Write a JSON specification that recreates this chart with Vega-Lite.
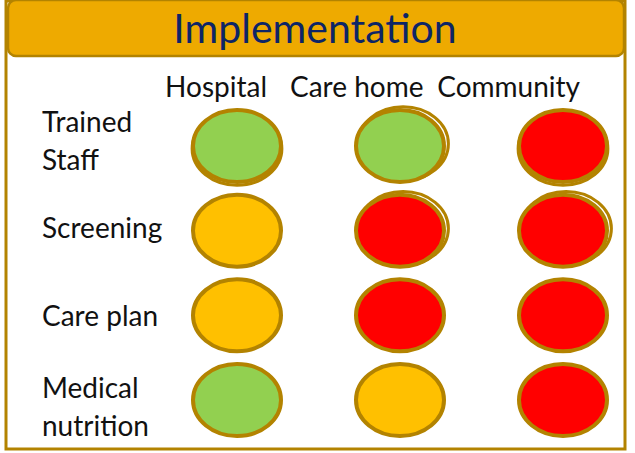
{
  "$schema": "https://vega.github.io/schema/vega-lite/v6.json",
  "width": 619,
  "height": 448,
  "autosize": {"type": "none"},
  "padding": {"left": 6, "top": 1, "right": 4, "bottom": 4},
  "background": "white",
  "config": {
    "view": {"stroke": "#B38300", "strokeWidth": 3},
    "text": {"font": "Lato"}
  },
  "datasets": {
    "title": [{"text": "Implementation"}],
    "cols": [{"col": "Hospital"}, {"col": "Care home"}, {"col": "Community"}],
    "rowlines": [
      {"row": "Trained Staff", "line": "first", "text": "Trained"},
      {"row": "Trained Staff", "line": "second", "text": "Staff"},
      {"row": "Screening", "line": "only", "text": "Screening"},
      {"row": "Care plan", "line": "only", "text": "Care plan"},
      {"row": "Medical nutrition", "line": "first", "text": "Medical"},
      {"row": "Medical nutrition", "line": "second", "text": "nutrition"}
    ],
    "cells": [
      {"col": "Hospital", "row": "Trained Staff", "status": "Green"},
      {"col": "Hospital", "row": "Screening", "status": "Amber"},
      {"col": "Hospital", "row": "Care plan", "status": "Amber"},
      {"col": "Hospital", "row": "Medical nutrition", "status": "Green"},
      {"col": "Care home", "row": "Trained Staff", "status": "Green"},
      {"col": "Care home", "row": "Screening", "status": "Red"},
      {"col": "Care home", "row": "Care plan", "status": "Red"},
      {"col": "Care home", "row": "Medical nutrition", "status": "Amber"},
      {"col": "Community", "row": "Trained Staff", "status": "Red"},
      {"col": "Community", "row": "Screening", "status": "Red"},
      {"col": "Community", "row": "Care plan", "status": "Red"},
      {"col": "Community", "row": "Medical nutrition", "status": "Red"}
    ]
  },
  "layer": [
    {
      "data": {"name": "title"},
      "mark": {"type": "rect", "fill": "#EEAA00", "stroke": "#B38300", "strokeWidth": 2.5, "cornerRadius": 8},
      "encoding": {
        "x": {"field": "text", "type": "nominal", "axis": null, "scale": {"type": "band", "range": [2, 618], "paddingInner": 0, "paddingOuter": 0}},
        "y": {"field": "text", "type": "nominal", "axis": null, "scale": {"type": "band", "range": [-1, 55], "paddingInner": 0, "paddingOuter": 0}}
      }
    },
    {
      "data": {"name": "title"},
      "mark": {"type": "text", "fontSize": 41, "color": "#0D2566", "align": "center", "baseline": "alphabetic"},
      "encoding": {
        "text": {"field": "text"},
        "x": {"field": "text", "type": "nominal", "axis": null, "scale": {"type": "point", "range": [309, 309], "padding": 0}},
        "y": {"field": "text", "type": "nominal", "axis": null, "scale": {"type": "point", "range": [42, 42], "padding": 0}}
      }
    },
    {
      "data": {"name": "cols"},
      "mark": {"type": "text", "fontSize": 28, "color": "#111111", "align": "right", "baseline": "alphabetic"},
      "encoding": {
        "text": {"field": "col"},
        "x": {"field": "col", "type": "nominal", "axis": null, "scale": {"type": "point", "domain": ["Hospital", "Care home", "Community"], "range": [261, 574], "padding": 0}},
        "y": {"field": "col", "type": "nominal", "axis": null, "scale": {"type": "point", "range": [96, 96], "padding": 0}}
      }
    },
    {
      "data": {"name": "rowlines"},
      "transform": [{"filter": "datum.line == 'first'"}],
      "mark": {"type": "text", "fontSize": 28, "color": "#111111", "align": "left", "baseline": "middle", "dy": -19},
      "encoding": {
        "text": {"field": "text"},
        "x": {"field": "row", "type": "nominal", "axis": null, "scale": {"type": "point", "range": [36, 36], "padding": 0}},
        "y": {"field": "row", "type": "nominal", "axis": null, "scale": {"type": "point", "domain": ["Trained Staff", "Screening", "Care plan", "Medical nutrition"], "range": [142, 408], "padding": 0}}
      }
    },
    {
      "data": {"name": "rowlines"},
      "transform": [{"filter": "datum.line == 'only'"}],
      "mark": {"type": "text", "fontSize": 28, "color": "#111111", "align": "left", "baseline": "middle", "dy": -2},
      "encoding": {
        "text": {"field": "text"},
        "x": {"field": "row", "type": "nominal", "axis": null, "scale": {"type": "point", "range": [36, 36], "padding": 0}},
        "y": {"field": "row", "type": "nominal", "axis": null, "scale": {"type": "point", "domain": ["Trained Staff", "Screening", "Care plan", "Medical nutrition"], "range": [142, 408], "padding": 0}}
      }
    },
    {
      "data": {"name": "rowlines"},
      "transform": [{"filter": "datum.line == 'second'"}],
      "mark": {"type": "text", "fontSize": 28, "color": "#111111", "align": "left", "baseline": "middle", "dy": 19},
      "encoding": {
        "text": {"field": "text"},
        "x": {"field": "row", "type": "nominal", "axis": null, "scale": {"type": "point", "range": [36, 36], "padding": 0}},
        "y": {"field": "row", "type": "nominal", "axis": null, "scale": {"type": "point", "domain": ["Trained Staff", "Screening", "Care plan", "Medical nutrition"], "range": [142, 408], "padding": 0}}
      }
    },
    {
      "data": {"name": "cells"},
      "transform": [{"filter": "datum.row == 'Trained Staff' && datum.col != 'Care home'"}],
      "mark": {"type": "point", "shape": "M -1.02 0.06 A 1.02 0.83 0 1 1 1.02 0.06 A 1.02 0.83 0 1 1 -1.02 0.06 Z", "filled": false, "opacity": 1, "size": 7744, "stroke": "#B38300", "strokeWidth": 3},
      "encoding": {
        "x": {"field": "col", "type": "nominal", "axis": null, "scale": {"type": "point", "domain": ["Hospital", "Care home", "Community"], "range": [231, 557], "padding": 0}},
        "y": {"field": "row", "type": "nominal", "axis": null, "scale": {"type": "point", "domain": ["Trained Staff", "Screening", "Care plan", "Medical nutrition"], "range": [145, 399], "padding": 0}}
      }
    },
    {
      "data": {"name": "cells"},
      "transform": [{"filter": "(datum.col == 'Care home' && (datum.row == 'Trained Staff' || datum.row == 'Screening')) || (datum.col == 'Community' && datum.row == 'Screening')"}],
      "mark": {"type": "point", "shape": "M -0.96 -0.05 A 1.03 0.84 0 1 1 1.1 -0.05 A 1.03 0.84 0 1 1 -0.96 -0.05 Z", "filled": false, "opacity": 1, "size": 7744, "stroke": "#B38300", "strokeWidth": 3},
      "encoding": {
        "x": {"field": "col", "type": "nominal", "axis": null, "scale": {"type": "point", "domain": ["Hospital", "Care home", "Community"], "range": [231, 557], "padding": 0}},
        "y": {"field": "row", "type": "nominal", "axis": null, "scale": {"type": "point", "domain": ["Trained Staff", "Screening", "Care plan", "Medical nutrition"], "range": [145, 399], "padding": 0}}
      }
    },
    {
      "data": {"name": "cells"},
      "mark": {"type": "point", "shape": "M -1 0 A 1 0.818 0 1 1 1 0 A 1 0.818 0 1 1 -1 0 Z", "filled": true, "opacity": 1, "size": 7744, "stroke": "#B38300", "strokeWidth": 4},
      "encoding": {
        "x": {"field": "col", "type": "nominal", "axis": null, "scale": {"type": "point", "domain": ["Hospital", "Care home", "Community"], "range": [231, 557], "padding": 0}},
        "y": {"field": "row", "type": "nominal", "axis": null, "scale": {"type": "point", "domain": ["Trained Staff", "Screening", "Care plan", "Medical nutrition"], "range": [145, 399], "padding": 0}},
        "color": {"field": "status", "type": "nominal", "legend": null, "scale": {"domain": ["Green", "Amber", "Red"], "range": ["#92D050", "#FFC000", "#FF0000"]}}
      }
    }
  ],
  "resolve": {"scale": {"x": "independent", "y": "independent"}}
}
